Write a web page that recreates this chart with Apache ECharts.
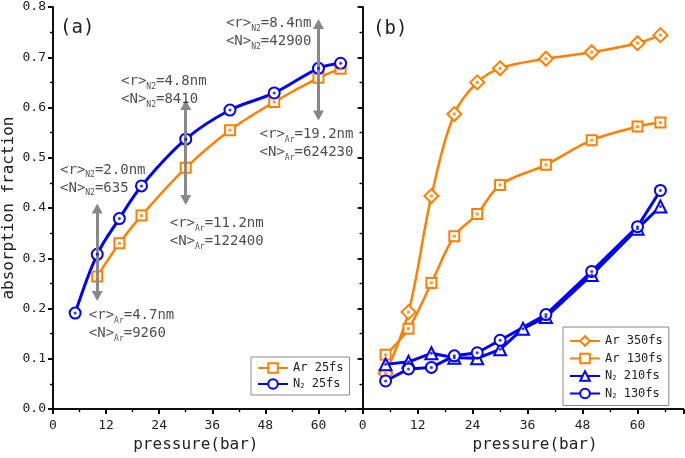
<!DOCTYPE html>
<html>
<head>
<meta charset="utf-8">
<title>absorption fraction vs pressure</title>
<script src="https://cdn.jsdelivr.net/npm/echarts@6/dist/echarts.min.js"></script>
<style>
  html, body { margin: 0; padding: 0; background: #fff; }
  #chart { width: 685px; height: 458px; }
</style>
</head>
<body>
<div id="chart"></div>
<script>
// panel (a), 25 fs pulses
const pressAr25 = [10, 15, 20, 30, 40, 50, 60, 65]
const ar25 = [0.264, 0.330, 0.385, 0.480, 0.555, 0.611, 0.659, 0.677]
const pressN225 = [5, 10, 15, 20, 30, 40, 50, 60, 65]
const n225 = [0.191, 0.308, 0.379, 0.444, 0.537, 0.595, 0.629, 0.678, 0.688]

// panel (b), longer pulses
const pressArB = [5, 10, 15, 20, 25, 30, 40, 50, 60, 65]
const ar350 = [0.071, 0.193, 0.424, 0.587, 0.650, 0.678, 0.697, 0.710, 0.728, 0.744]
const ar130 = [0.108, 0.160, 0.251, 0.344, 0.388, 0.446, 0.486, 0.535, 0.562, 0.570]
const pressN2210 = [5, 10, 15, 20, 25, 30, 35, 40, 50, 60, 65]
const n2210 = [0.089, 0.094, 0.111, 0.102, 0.101, 0.119, 0.160, 0.183, 0.267, 0.359, 0.403]
const pressN2130 = [5, 10, 15, 20, 25, 30, 40, 50, 60, 65]
const n2130 = [0.056, 0.080, 0.083, 0.106, 0.112, 0.137, 0.188, 0.274, 0.363, 0.435]

// cluster size notes in panel (a): anchor = top-left of the text block
const noteX = [39.2, 15.5, 1.7, 46.8, 26.5, 8.2]
const noteY = [0.784, 0.668, 0.492, 0.563, 0.386, 0.203]
const noteGas = ['N2', 'N2', 'N2', 'Ar', 'Ar', 'Ar']
const noteR = ['8.4nm', '4.8nm', '2.0nm', '19.2nm', '11.2nm', '4.7nm']
const noteN = ['42900', '8410', '635', '624230', '122400', '9260']

// double arrows (ends at the centre of the arrow heads)
const arrowX = [10, 30, 60]
const arrowLo = [0.225, 0.416, 0.584]
const arrowHi = [0.399, 0.605, 0.766]

const yLabels = ['0.0', '0.1', '0.2', '0.3', '0.4', '0.5', '0.6', '0.7', '0.8']

const ORANGE = '#ff8000'
const BLUE = '#0000ff'
const GREY = '#888888'
const MONO = 'DejaVu Sans Mono'

const zip = (xs, ys) => xs.map((x, i) => [x, ys[i]])

function xAxis(grid, pos, withLabels) {
  return {
    type: 'value', gridIndex: grid, position: pos,
    min: 0, max: 70, interval: 12,
    name: withLabels ? 'pressure(bar)' : '',
    nameLocation: 'middle', nameGap: 27,
    nameTextStyle: {
      fontFamily: MONO, fontSize: 16, color: '#222',
      padding: grid === 0 ? [0, 24, 0, 0] : [0, 0, 0, 24]
    },
    axisLine: { lineStyle: { color: '#000', width: 1.5 } },
    axisTick: { inside: !withLabels, length: 5, lineStyle: { color: '#000', width: 1.5 } },
    minorTick: { show: true, splitNumber: 2, length: 3, lineStyle: { color: '#000', width: 1.2 } },
    axisLabel: {
      show: withLabels, showMaxLabel: false, margin: 10,
      fontFamily: MONO, fontSize: 13, color: '#222'
    },
    splitLine: { show: false }
  }
}

function yAxis(grid, pos, withLabels, inside) {
  return {
    type: 'value', gridIndex: grid, position: pos,
    min: 0, max: 0.8, interval: 0.1,
    name: withLabels ? 'absorption fraction' : '',
    nameLocation: 'middle', nameGap: 36,
    nameTextStyle: { fontFamily: MONO, fontSize: 16, color: '#222' },
    axisLine: { lineStyle: { color: '#000', width: 1.5 } },
    axisTick: { inside: inside, length: 5, lineStyle: { color: '#000', width: 1.5 } },
    minorTick: { show: true, splitNumber: 2, length: 3, lineStyle: { color: '#000', width: 1.2 } },
    axisLabel: {
      show: withLabels, margin: 7,
      fontFamily: MONO, fontSize: 13, color: '#222',
      formatter: v => yLabels[Math.round(v * 10)]
    },
    splitLine: { show: false }
  }
}

function lineSeries(name, grid, data, color, symbol, size, smooth, width) {
  return {
    name, type: 'line', xAxisIndex: grid * 2, yAxisIndex: grid * 2,
    data, smooth, symbol, symbolSize: size, showAllSymbol: true,
    lineStyle: { color, width },
    itemStyle: { color: '#fff', borderColor: color, borderWidth: 2 },
    z: 3
  }
}

// small centre dot of the hollow markers
let dotCount = 0
function dotSeries(grid, data, color, symbol) {
  dotCount++
  return {
    name: 'dot' + dotCount,
    type: 'scatter', xAxisIndex: grid * 2, yAxisIndex: grid * 2,
    data, symbol, symbolSize: 3,
    itemStyle: { color: color }, z: 10
  }
}

const noteData = noteX.map((x, i) => ({
  value: [x, noteY[i]],
  gas: noteGas[i], r: noteR[i], n: noteN[i]
}))

const arrowData = arrowX.map((x, i) => [{ coord: [x, arrowLo[i]] }, { coord: [x, arrowHi[i]] }])

const legendRich = {
  s: { fontFamily: MONO, fontSize: 7, lineHeight: 2, verticalAlign: 'bottom', color: '#222' }
}
const legendFmt = name => name.indexOf('N2') === 0 ? 'N{s|2}' + name.slice(2) : name

const chart = echarts.init(document.getElementById('chart'))
chart.setOption({
  animation: false,
  title: [
    { text: '(a)', left: 60, top: 19, padding: 0, textStyle: { fontFamily: MONO, fontSize: 19, fontWeight: 'normal', color: '#222' } },
    { text: '(b)', left: 373, top: 20, padding: 0, textStyle: { fontFamily: MONO, fontSize: 19, fontWeight: 'normal', color: '#222' } }
  ],
  grid: [
    { left: 52.5, top: 7, width: 310.2, height: 405 },
    { left: 362.7, top: 7, width: 320.6, height: 405 }
  ],
  xAxis: [
    xAxis(0, 'bottom', true), xAxis(0, 'top', false),
    xAxis(1, 'bottom', true), xAxis(1, 'top', false)
  ],
  yAxis: [
    yAxis(0, 'left', true, false), yAxis(0, 'right', false, true),
    yAxis(1, 'left', false, false), yAxis(1, 'right', false, true)
  ],
  legend: [
    {
      data: ['Ar 25fs', 'N2 25fs'], orient: 'vertical',
      left: 251, top: 357, padding: [5, 6, 5, 6], itemGap: 4,
      itemWidth: 30, itemHeight: 12,
      backgroundColor: '#fff', borderColor: GREY, borderWidth: 1, borderRadius: 0,
      formatter: legendFmt,
      textStyle: { fontFamily: MONO, fontSize: 12, color: '#222', rich: legendRich }
    },
    {
      data: ['Ar 350fs', 'Ar 130fs', 'N2 210fs', 'N2 130fs'], orient: 'vertical',
      left: 563, top: 327, padding: [8, 6, 6, 6], itemGap: 5.5,
      itemWidth: 30, itemHeight: 12,
      backgroundColor: '#fff', borderColor: GREY, borderWidth: 1, borderRadius: 0,
      formatter: legendFmt,
      textStyle: { fontFamily: MONO, fontSize: 12, color: '#222', rich: legendRich }
    }
  ],
  series: [
    lineSeries('Ar 25fs', 0, zip(pressAr25, ar25), ORANGE, 'rect', 10, 0.35, 2.5),
    lineSeries('N2 25fs', 0, zip(pressN225, n225), BLUE, 'circle', 11, 0.35, 3),
    dotSeries(0, zip(pressAr25, ar25), ORANGE, 'rect'),
    dotSeries(0, zip(pressN225, n225), BLUE, 'circle'),

    lineSeries('Ar 350fs', 1, zip(pressArB, ar350), ORANGE, 'diamond', 14, 0.35, 2.5),
    lineSeries('Ar 130fs', 1, zip(pressArB, ar130), ORANGE, 'rect', 10, 0.35, 2.5),
    lineSeries('N2 210fs', 1, zip(pressN2210, n2210), BLUE, 'triangle', 12, false, 3),
    lineSeries('N2 130fs', 1, zip(pressN2130, n2130), BLUE, 'circle', 11, false, 3),
    dotSeries(1, zip(pressArB, ar350), ORANGE, 'rect'),
    dotSeries(1, zip(pressArB, ar130), ORANGE, 'rect'),
    dotSeries(1, zip(pressN2210, n2210), BLUE, 'circle'),
    dotSeries(1, zip(pressN2130, n2130), BLUE, 'circle'),

    {
      name: 'notes',
      type: 'scatter', xAxisIndex: 0, yAxisIndex: 0,
      data: noteData, symbolSize: 1, silent: true,
      itemStyle: { color: 'rgba(0,0,0,0)' },
      label: {
        show: true, position: [0, 0], align: 'left', verticalAlign: 'top',
        formatter: p => '{m|<r>}{s|' + p.data.gas + '}{m|=' + p.data.r + '}\n' +
                        '{m|<N>}{s|' + p.data.gas + '}{m|=' + p.data.n + '}',
        rich: {
          m: { fontFamily: MONO, fontSize: 14, lineHeight: 18, color: '#222' },
          s: { fontFamily: MONO, fontSize: 8, lineHeight: 4, verticalAlign: 'bottom', color: '#222' }
        }
      },
      markLine: {
        silent: true, animation: false,
        symbol: ['triangle', 'triangle'], symbolSize: [11, 10],
        label: { show: false },
        lineStyle: { color: GREY, width: 3, type: 'solid' },
        data: arrowData
      },
      z: 5
    }
  ]
})
</script>
</body>
</html>
